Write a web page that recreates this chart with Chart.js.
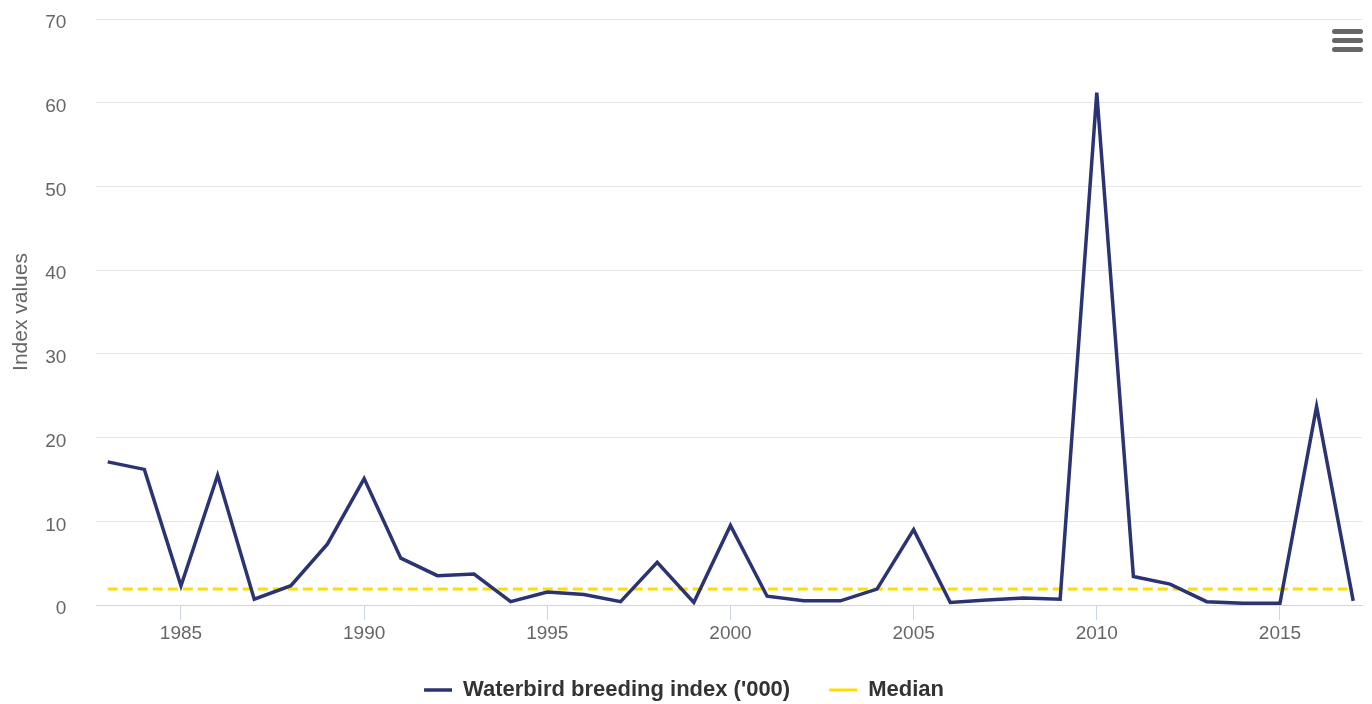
<!DOCTYPE html>
<html>
<head>
<meta charset="utf-8">
<title>Waterbird breeding index</title>
<script src="https://cdn.jsdelivr.net/npm/chart.js@4.4.1/dist/chart.umd.min.js"></script>
<style>
  html, body { margin: 0; padding: 0; background: #fff; }
  #wrap { position: relative; width: 1372px; height: 704px; }
  #menu { position: absolute; left: 1332px; top: 29px; width: 31px; }
  #menu span { display: block; height: 5px; margin-bottom: 4px; border-radius: 3px; background: #666; }
</style>
</head>
<body>
<div id="wrap">
  <canvas id="waterbirdChart" width="1372" height="704"></canvas>
  <div id="menu"><span></span><span></span><span></span></div>
</div>
<script>
// breeding index per year, thousands
const years = [1983, 1984, 1985, 1986, 1987, 1988, 1989, 1990, 1991, 1992,
  1993, 1994, 1995, 1996, 1997, 1998, 1999, 2000, 2001, 2002,
  2003, 2004, 2005, 2006, 2007, 2008, 2009, 2010, 2011, 2012,
  2013, 2014, 2015, 2016, 2017];
const breedingIndex = [17.1, 16.2, 2.3, 15.5, 0.7, 2.3, 7.3, 15.1, 5.6, 3.5,
  3.7, 0.4, 1.55, 1.25, 0.4, 5.1, 0.3, 9.5, 1.05, 0.5,
  0.5, 1.9, 9.0, 0.3, 0.6, 0.85, 0.7, 61.2, 3.4, 2.5,
  0.4, 0.2, 0.2, 23.7, 0.5];
const median = 1.9;
const xTicks = [1985, 1990, 1995, 2000, 2005, 2010, 2015];
const yTicks = [0, 10, 20, 30, 40, 50, 60, 70];

const FONT = "'Liberation Sans', Arial, Helvetica, sans-serif";

document.addEventListener("DOMContentLoaded", function () {
  const ctx = document.getElementById("waterbirdChart");
  if (!ctx) return;

  new Chart(ctx, {
    type: "line",
    data: {
      datasets: [
        {
          label: "Waterbird breeding index ('000)",
          data: years.map((y, i) => ({ x: y, y: breedingIndex[i] })),
          borderColor: "#2b3373",
          backgroundColor: "#2b3373",
          borderWidth: 3.5,
          pointRadius: 0,
          tension: 0,
        },
        {
          label: "Median",
          data: years.map((y) => ({ x: y, y: median })),
          borderColor: "#ffdd00",
          backgroundColor: "#ffdd00",
          borderWidth: 3,
          borderDash: [10, 5],
          pointRadius: 0,
        },
      ],
    },
    options: {
      responsive: false,
      animation: false,
      layout: { padding: { top: 0, right: 10, left: 6, bottom: -7 } },
      plugins: {
        tooltip: { enabled: false },
        legend: {
          position: "bottom",
          labels: {
            usePointStyle: true,
            pointStyle: "line",
            pointStyleWidth: 28,
            boxWidth: 28,
            boxHeight: 3,
            padding: 39,
            color: "#333",
            font: { family: FONT, size: 22, weight: "bold" },
          },
        },
      },
      scales: {
        x: {
          type: "linear",
          min: 1982.68,
          max: 2017.24,
          afterBuildTicks: (axis) => { axis.ticks = xTicks.map((v) => ({ value: v })); },
          afterFit: (axis) => { axis.height = 35; },
          border: { display: true, color: "#ccd6eb", width: 1 },
          grid: { drawOnChartArea: false, drawTicks: true, tickLength: 15, color: "#ccd6eb" },
          ticks: {
            padding: 2,
            color: "#666",
            font: { family: FONT, size: 19 },
            callback: (v) => String(v),
          },
        },
        y: {
          min: 0,
          max: 70,
          afterBuildTicks: (axis) => { axis.ticks = yTicks.map((v) => ({ value: v })); },
          afterFit: (axis) => { axis.width = 90; },
          border: { display: false },
          // invisible tick marks push the labels away from the plot
          grid: { color: "#e6e6e6", drawTicks: true, tickLength: 22, tickColor: "rgba(0,0,0,0)" },
          ticks: {
            padding: 7.6,
            labelOffset: 4,
            color: "#666",
            font: { family: FONT, size: 19 },
          },
          title: {
            display: true,
            text: "Index values",
            color: "#666",
            padding: { top: 2.5, bottom: 0 },
            font: { family: FONT, size: 21 },
          },
        },
      },
    },
  });
});
</script>
</body>
</html>
